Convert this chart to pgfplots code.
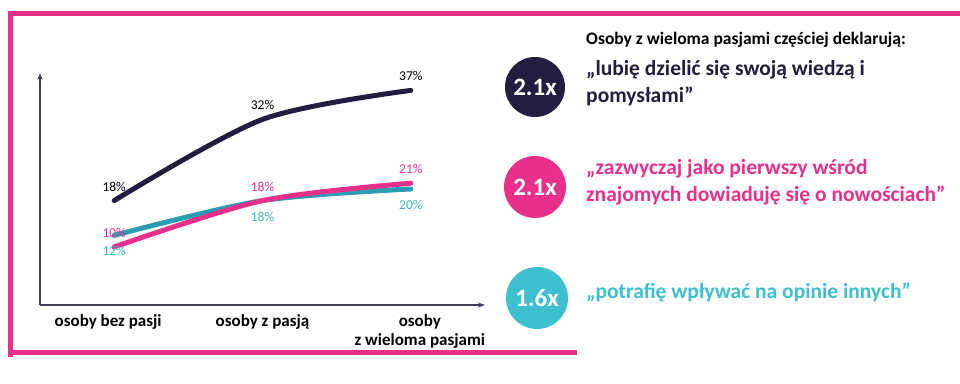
\documentclass[border=0pt]{standalone}
\usepackage{pgfplots}
\pgfplotsset{compat=1.18}
\usepackage{fontspec}
\setmainfont{Carlito}
\usetikzlibrary{arrows.meta}
\definecolor{navy}{HTML}{211E3F}
\definecolor{pinkc}{HTML}{E8308A}
\definecolor{tealline}{HTML}{2A9DB3}
\definecolor{tealtext}{HTML}{3AB4C8}
\definecolor{cyanc}{HTML}{3DBFCF}
\definecolor{axisc}{HTML}{3C3C55}
\begin{document}
\begin{tikzpicture}[x=1pt,y=1pt]
\path[use as bounding box] (0,0) rectangle (960,383);
% frame
\draw[pinkc, line width=5pt] (8,369) -- (960,369);
\draw[pinkc, line width=5pt] (10,371) -- (10,26);
\draw[pinkc, line width=5pt] (8,31) -- (577,31);
\begin{axis}[
  at={(40pt,78pt)}, anchor=south west,
  scale only axis, width=445pt, height=232pt,
  xmin=-0.5, xmax=2.5, ymin=0, ymax=40,
  axis lines=left,
  axis line style={axisc, line width=1.2pt},
  x axis line style={-{Stealth[length=7pt,width=5pt]}},
  y axis line style={-{Stealth[length=7pt,width=5pt]}},
  ytick=\empty, xtick={0,1,2},
  major tick length=0pt,
  xticklabels={{osoby bez pasji\hspace*{12pt}},{osoby z pasją},{\hspace*{18pt}osoby\\\hspace*{18pt}z wieloma pasjami}},
  xticklabel style={font=\fontsize{17}{19}\selectfont\bfseries, align=center, anchor=north, yshift=-6pt},
  clip=false,
  point meta=explicit symbolic,
  nodes near coords,
  every node near coord/.append style={font=\fontsize{13.5}{15}\selectfont, anchor=center},
]
\addplot[tealline, line width=5pt, smooth, line cap=round,
  every node near coord/.append style={text=tealtext, yshift=-16pt}]
  coordinates {(0,12) [12\%] (1,18) [18\%] (2,20) [20\%]};
\addplot[pinkc, line width=5pt, smooth, line cap=round,
  every node near coord/.append style={text=pinkc, yshift=14pt}]
  coordinates {(0,10) [10\%] (1,18) [18\%] (2,21) [21\%]};
\addplot[navy, line width=5pt, smooth, line cap=round,
  every node near coord/.append style={text=black, yshift=14pt}]
  coordinates {(0,18) [18\%] (1,32) [32\%] (2,37) [37\%]};
\end{axis}
% right side
\node[anchor=base west, inner sep=0pt, font=\fontsize{17.5}{20}\selectfont\bfseries, text=black] at (586,338) {Osoby z wieloma pasjami częściej deklarują:};
\fill[navy] (535,296) circle (30);
\node[text=white, font=\fontsize{25}{27}\selectfont\bfseries] at (535,296) {2.1x};
\fill[pinkc] (535,196) circle (31);
\node[text=white, font=\fontsize{25}{27}\selectfont\bfseries] at (535,196) {2.1x};
\fill[cyanc] (537,85) circle (31);
\node[text=white, font=\fontsize{25}{27}\selectfont\bfseries] at (537,85) {1.6x};
\node[anchor=base west, align=left, inner sep=0pt, font=\fontsize{21.5}{27.5}\selectfont\bfseries, text=navy] at (586,280) {„lubię dzielić się swoją wiedzą i\\pomysłami”};
\node[anchor=base west, align=left, inner sep=0pt, font=\fontsize{21.5}{27.5}\selectfont\bfseries, text=pinkc] at (586,181) {„zazwyczaj jako pierwszy wśród\\znajomych dowiaduję się o nowościach”};
\node[anchor=base west, align=left, inner sep=0pt, font=\fontsize{21.5}{27.5}\selectfont\bfseries, text=cyanc] at (586,85) {„potrafię wpływać na opinie innych”};
\end{tikzpicture}
\end{document}
